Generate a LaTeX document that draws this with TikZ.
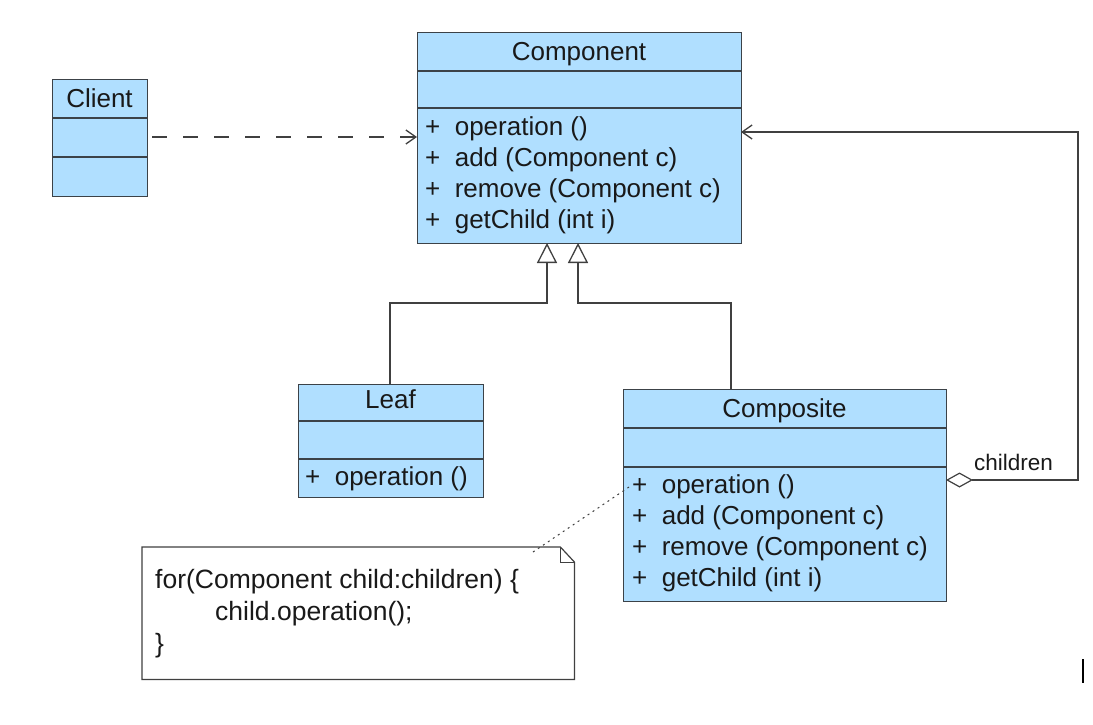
\documentclass[tikz,border=0pt]{standalone}
\usepackage{fontspec}
\setmainfont{Liberation Sans}
\usetikzlibrary{arrows.meta}
\definecolor{clsfill}{RGB}{176,223,255}
\definecolor{clsborder}{RGB}{60,66,72}
\definecolor{lnclr}{RGB}{64,64,64}
\tikzset{
  cls/.style={draw=clsborder, fill=clsfill, line width=1.2pt, inner sep=0pt, anchor=north west},
  sep/.style={draw=clsborder, line width=1.2pt},
  ttl/.style={font=\fontsize{26}{26}\selectfont, inner sep=0pt, anchor=base, text=black!90},
  op/.style={font=\fontsize{26}{26}\selectfont, inner sep=0pt, anchor=base west, text=black!90},
  notetxt/.style={font=\fontsize{26.5}{26.5}\selectfont, inner sep=0pt, anchor=base west, text=black!90},
  conn/.style={draw=lnclr, line width=1.3pt},
  gen/.style={conn, -{Triangle[open, length=20pt, width=20pt, fill=white]}},
}
\begin{document}
\begin{tikzpicture}[x=1pt, y=-1pt]
\useasboundingbox[fill=white] (0,0) rectangle (1093,724);

% ---------- Client ----------
\node[cls, minimum width=95pt, minimum height=117pt] (client) at (52,79) {};
\draw[sep] (52,118) -- (147,118);
\draw[sep] (52,157) -- (147,157);
\node[ttl] (clientT) at (99.5,107) {Client};

% ---------- Component ----------
\node[cls, minimum width=324pt, minimum height=211pt] (comp) at (417,32) {};
\draw[sep] (417,71) -- (741,71);
\draw[sep] (417,108) -- (741,108);
\node[ttl] (compT) at (579,60) {Component};
\node[op] (compO1) at (425,135) {+\ \ operation ()};
\node[op] (compO2) at (425,166) {+\ \ add (Component c)};
\node[op] (compO3) at (425,197) {+\ \ remove (Component c)};
\node[op] (compO4) at (425,228) {+\ \ getChild (int i)};

% ---------- Leaf ----------
\node[cls, minimum width=185pt, minimum height=113pt] (leaf) at (298,384) {};
\draw[sep] (298,421) -- (483,421);
\draw[sep] (298,459) -- (483,459);
\node[ttl] (leafT) at (390.5,408) {Leaf};
\node[op] (leafO1) at (305,485) {+\ \ operation ()};

% ---------- Composite ----------
\node[cls, minimum width=323pt, minimum height=212pt] (compo) at (623,389) {};
\draw[sep] (623,428) -- (946,428);
\draw[sep] (623,467) -- (946,467);
\node[ttl] (compoT) at (784.5,417) {Composite};
\node[op] (compoO1) at (632,493) {+\ \ operation ()};
\node[op] (compoO2) at (632,524) {+\ \ add (Component c)};
\node[op] (compoO3) at (632,555) {+\ \ remove (Component c)};
\node[op] (compoO4) at (632,586) {+\ \ getChild (int i)};

% ---------- Note ----------
\node[inner sep=0pt, minimum width=432pt, minimum height=132pt, anchor=north west] (note) at (142,547) {};
\draw[draw=lnclr, line width=1.2pt, fill=white]
  (note.north west) -- ([xshift=-14pt]note.north east) -- ([yshift=-15pt]note.north east)
  -- (note.south east) -- (note.south west) -- cycle;
\draw[draw=lnclr, line width=1pt]
  ([xshift=-14pt]note.north east) -- ([xshift=-14pt,yshift=-15pt]note.north east) -- ([yshift=-15pt]note.north east);
\node[notetxt] (noteL1) at (155,588) {for(Component child:children) \{};
\node[notetxt] (noteL2) at (215,620) {child.operation();};
\node[notetxt] (noteL3) at (155,652) {\}};

% ---------- connectors ----------
\coordinate (depS) at (152,137);
\coordinate (depE) at (417,137);
\draw[conn, -{Straight Barb[length=10pt, width=14pt, line width=1.3pt]}, dash pattern=on 15pt off 16pt] (depS) -- (depE);

\coordinate (g1) at (547,243);
\coordinate (g2) at (578,243);
\draw[gen] (leaf.north -| 390,0) |- (547,303) -- (g1);
\draw[gen] (compo.north -| 731,0) |- (578,303) -- (g2);

\coordinate (aggS) at (946,480);
\coordinate (assE) at (741,132);
\draw[conn, {Diamond[open, length=27pt, width=15pt, fill=white, line width=1.2pt]}-{Straight Barb[length=10pt, width=14pt, line width=1.3pt]}]
  (aggS) -- (1078,480) -- (1078,132) -- (assE);
\node[inner sep=0pt, anchor=base west, font=\fontsize{22.5}{22.5}\selectfont, text=black!90] (childrenL) at (974,470) {children};

\coordinate (noteC) at (533,552);
\coordinate (opC) at (632,485);
\draw[draw=lnclr, line width=1pt, dash pattern=on 2pt off 4pt] (noteC) -- (opC);

% stray mark
\coordinate (m1) at (1083,659);
\coordinate (m2) at (1083,683);
\draw[line width=1.8pt, black] (m1) -- (m2);
\end{tikzpicture}
\end{document}
